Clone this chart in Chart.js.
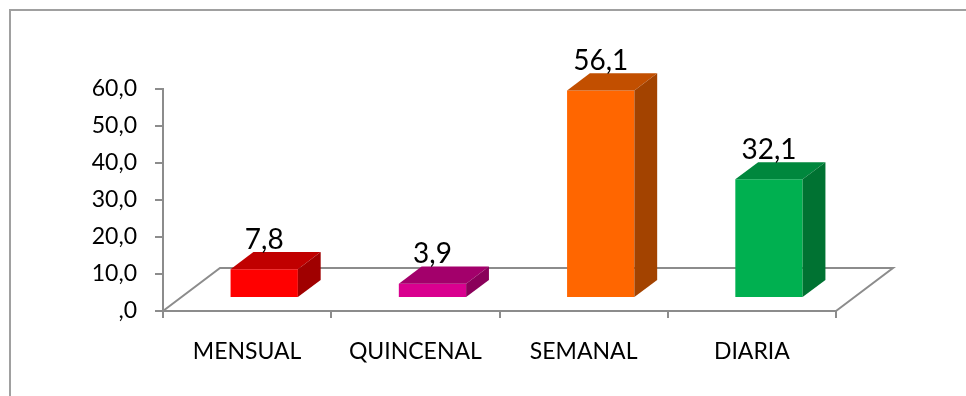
<!DOCTYPE html>
<html>
<head>
<meta charset="utf-8">
<script src="https://cdn.jsdelivr.net/npm/chart.js@4.4.1/dist/chart.umd.min.js"></script>
<style>
  html, body { margin: 0; padding: 0; background: #fff; }
  #wrap { width: 966px; height: 396px; }
</style>
</head>
<body>
<div id="wrap"><canvas id="freqChart"></canvas></div>
<script>
const categories = ["MENSUAL", "QUINCENAL", "SEMANAL", "DIARIA"];
const values = [7.8, 3.9, 56.1, 32.1];
const yTicks = [0, 10, 20, 30, 40, 50, 60];

const frontColors = ["#ff0000", "#d9008f", "#ff6600", "#00b050"];
const topColors = ["#c00000", "#a3006b", "#c24f00", "#00873d"];
const sideColors = ["#a00000", "#8a005a", "#a34300", "#007232"];

const AXIS = "#8c8c8c";
const FONT = "Lato";
const FLOOR = { x: 57, y: -43 };   // depth of the 3d floor
const FRONT = 0.3, BACK = 0.7;     // where the bars sit inside that depth

const fmt = v => v === 0 ? ",0" : v.toFixed(1).replace(".", ",");

// fake 3d: floor, shifted front faces, top + side faces, value labels
const box3d = {
  id: "box3d",
  beforeDatasetsDraw(chart) {
    const { ctx, chartArea: a } = chart;
    const y0 = chart.scales.y.getPixelForValue(0);
    ctx.save();
    ctx.strokeStyle = AXIS;
    ctx.lineWidth = 2;
    ctx.beginPath();
    ctx.moveTo(a.left, y0);
    ctx.lineTo(a.left + FLOOR.x, y0 + FLOOR.y);
    ctx.lineTo(a.right + FLOOR.x, y0 + FLOOR.y);
    ctx.lineTo(a.right, y0);
    ctx.stroke();
    ctx.restore();
  },
  beforeDatasetDraw(chart) {
    chart.ctx.save();
    chart.ctx.translate(FLOOR.x * FRONT, FLOOR.y * FRONT);
  },
  afterDatasetDraw(chart, args) {
    const ctx = chart.ctx;
    ctx.restore();
    const ox = FLOOR.x * FRONT, oy = FLOOR.y * FRONT;
    const dx = FLOOR.x * (BACK - FRONT), dy = FLOOR.y * (BACK - FRONT);
    args.meta.data.forEach((bar, i) => {
      const l = bar.x - bar.width / 2 + ox, r = bar.x + bar.width / 2 + ox;
      const t = bar.y + oy, b = bar.base + oy;
      ctx.fillStyle = topColors[i];
      ctx.beginPath();
      ctx.moveTo(l, t); ctx.lineTo(l + dx, t + dy); ctx.lineTo(r + dx, t + dy); ctx.lineTo(r, t);
      ctx.closePath(); ctx.fill();
      ctx.fillStyle = sideColors[i];
      ctx.beginPath();
      ctx.moveTo(r, t); ctx.lineTo(r + dx, t + dy); ctx.lineTo(r + dx, b + dy); ctx.lineTo(r, b);
      ctx.closePath(); ctx.fill();
      ctx.fillStyle = "#000";
      ctx.font = "28px " + FONT;
      ctx.textAlign = "center";
      ctx.textBaseline = "alphabetic";
      ctx.fillText(fmt(values[i]), bar.x + ox, t + dy - 3);
    });
  },
  afterDraw(chart) {
    const ctx = chart.ctx;
    ctx.save();
    ctx.strokeStyle = "#a0a0a0";
    ctx.lineWidth = 2;
    ctx.beginPath();
    ctx.moveTo(10, chart.height);
    ctx.lineTo(10, 10);
    ctx.lineTo(chart.width, 10);
    ctx.stroke();
    ctx.restore();
  }
};

new Chart(document.getElementById("freqChart"), {
  type: "bar",
  data: {
    labels: categories,
    datasets: [{
      data: values,
      backgroundColor: frontColors,
      borderWidth: 0,
      barPercentage: 0.4,
      categoryPercentage: 1,
      clip: false
    }]
  },
  options: {
    responsive: true,
    maintainAspectRatio: false,
    animation: false,
    events: [],
    layout: { padding: { top: 89, left: 0, right: 130, bottom: 0 } },
    plugins: { legend: { display: false }, tooltip: { enabled: false } },
    scales: {
      x: {
        grid: { drawOnChartArea: false, color: AXIS, lineWidth: 2, tickLength: 7 },
        border: { color: AXIS, width: 2 },
        ticks: { color: "#000", font: { family: FONT, size: 23 }, padding: 20, maxRotation: 0 },
        afterFit: s => { s.height = 85; }
      },
      y: {
        min: 0, max: 60,
        afterBuildTicks: s => { s.ticks = yTicks.map(v => ({ value: v })); },
        grid: { drawOnChartArea: false, color: AXIS, lineWidth: 2, tickLength: 8 },
        border: { color: AXIS, width: 2 },
        ticks: { color: "#000", font: { family: FONT, size: 23 }, padding: 18, callback: v => fmt(v) },
        afterFit: s => { s.width = 163; }
      }
    }
  },
  plugins: [box3d]
});
</script>
</body>
</html>
